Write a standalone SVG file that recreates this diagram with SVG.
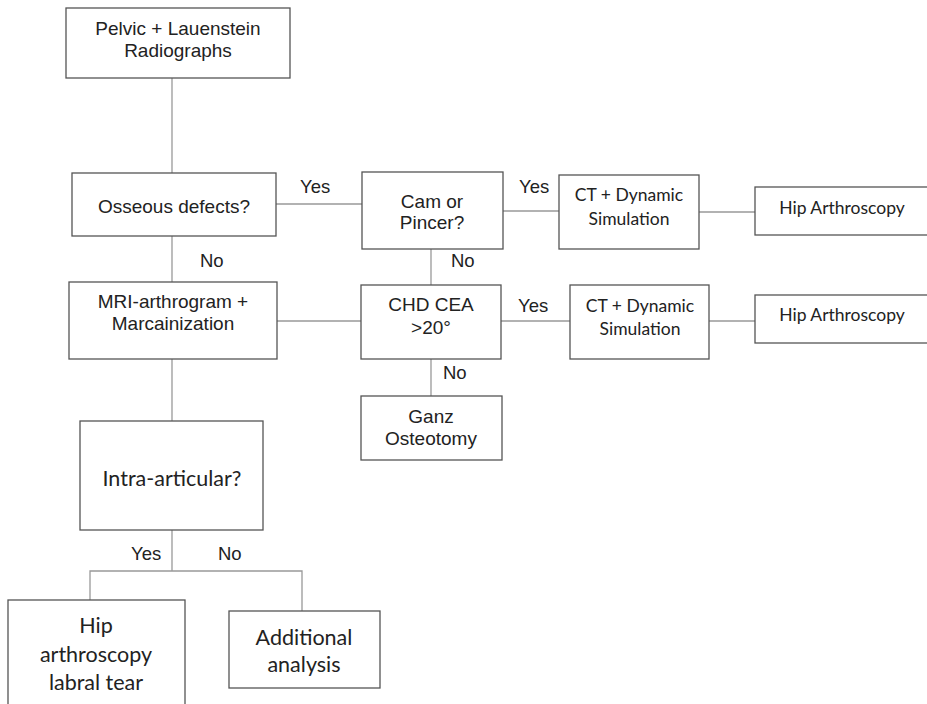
<svg xmlns="http://www.w3.org/2000/svg" width="927" height="704" viewBox="0 0 927 704">
<style>
.box{fill:#fff;stroke:#555;stroke-width:1.3}
.ln{stroke:#999;stroke-width:1.3;fill:none}
.a{font-family:"Liberation Sans",Arial,sans-serif;font-size:19px;fill:#222;text-anchor:middle}
.lb{font-family:"Liberation Sans",Arial,sans-serif;font-size:18.5px;fill:#222}
.c{font-family:Lato,"Open Sans",sans-serif;font-size:17.5px;fill:#222;text-anchor:middle}
.c2{font-family:Lato,"Open Sans",sans-serif;font-size:21.5px;fill:#222;text-anchor:middle}
</style>
<rect width="927" height="704" fill="#fff"/>
<g id="connectors">
<path class="ln" d="M172 78V173"/>
<path class="ln" d="M276 204H362"/>
<path class="ln" d="M503 211H559"/>
<path class="ln" d="M699 212H755"/>
<path class="ln" d="M431 249V285"/>
<path class="ln" d="M172 236V282"/>
<path class="ln" d="M277 321H361"/>
<path class="ln" d="M501 321H570"/>
<path class="ln" d="M709 321H755"/>
<path class="ln" d="M431 359V396"/>
<path class="ln" d="M172 359V421"/>
<path class="ln" d="M172 530V571"/>
<path class="ln" d="M90 600V571H302V611"/>
<text class="lb" x="300" y="193">Yes</text>
<text class="lb" x="519" y="193">Yes</text>
<text class="lb" x="518" y="312">Yes</text>
<text class="lb" x="451" y="267">No</text>
<text class="lb" x="200" y="267">No</text>
<text class="lb" x="443" y="379">No</text>
<text class="lb" x="131" y="560">Yes</text>
<text class="lb" x="218" y="560">No</text>
</g>
<g id="n-pelvic"><rect class="box" x="66" y="8" width="224" height="70"/><text class="a" x="178" y="35">Pelvic + Lauenstein</text><text class="a" x="178" y="57">Radiographs</text></g>
<g id="n-osseous"><rect class="box" x="72" y="173" width="204" height="63"/><text class="a" x="174" y="213">Osseous defects?</text></g>
<g id="n-cam"><rect class="box" x="362" y="172" width="141" height="77"/><text class="a" x="432" y="208">Cam or</text><text class="a" x="432" y="229">Pincer?</text></g>
<g id="n-ct1"><rect class="box" x="559" y="175" width="140" height="74"/><text class="c" x="629" y="201">CT + Dynamic</text><text class="c" x="629" y="225">Simulation</text></g>
<g id="n-hip1"><rect class="box" x="755" y="187" width="175" height="48"/><text class="c" x="842" y="214">Hip Arthroscopy</text></g>
<g id="n-mri"><rect class="box" x="69" y="282" width="208" height="77"/><text class="a" x="173" y="308">MRI-arthrogram +</text><text class="a" x="173" y="330">Marcainization</text></g>
<g id="n-chd"><rect class="box" x="361" y="285" width="140" height="74"/><text class="a" x="431" y="311">CHD CEA</text><text class="a" x="431" y="334">&gt;20°</text></g>
<g id="n-ct2"><rect class="box" x="570" y="285" width="139" height="74"/><text class="c" x="640" y="312">CT + Dynamic</text><text class="c" x="640" y="335">Simulation</text></g>
<g id="n-hip2"><rect class="box" x="755" y="295" width="175" height="48"/><text class="c" x="842" y="321">Hip Arthroscopy</text></g>
<g id="n-ganz"><rect class="box" x="361" y="396" width="141" height="64"/><text class="a" x="431" y="423">Ganz</text><text class="a" x="431" y="445">Osteotomy</text></g>
<g id="n-intra"><rect class="box" x="80" y="421" width="183" height="109"/><text class="c2" x="172" y="486">Intra-articular?</text></g>
<g id="n-hipl"><rect class="box" x="8" y="600" width="177" height="110"/><text class="c2" x="96" y="633">Hip</text><text class="c2" x="96" y="662">arthroscopy</text><text class="c2" x="96" y="690">labral tear</text></g>
<g id="n-add"><rect class="box" x="229" y="611" width="151" height="77"/><text class="c2" x="304" y="645">Additional</text><text class="c2" x="304" y="672">analysis</text></g>
</svg>
